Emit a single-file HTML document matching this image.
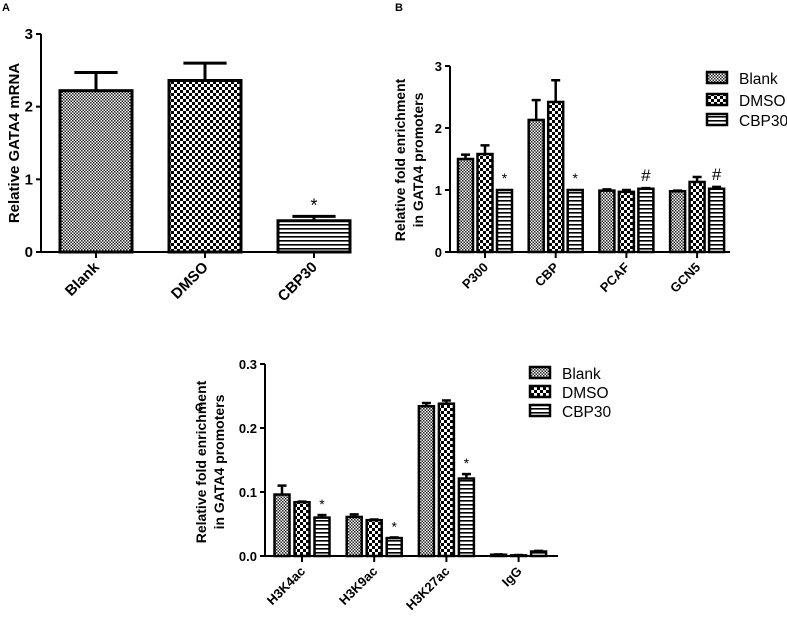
<!DOCTYPE html>
<html><head><meta charset="utf-8"><style>
html,body{margin:0;padding:0;background:#fff;}
svg{display:block;font-family:"Liberation Sans",Arial,sans-serif;}
</style></head><body>
<svg width="787" height="620" viewBox="0 0 787 620">
<defs>
<pattern id="pBlank" width="3" height="3" patternUnits="userSpaceOnUse"><rect width="3" height="3" fill="#fff"/><rect width="1.5" height="1.5" fill="#222"/><rect x="1.5" y="1.5" width="1.5" height="1.5" fill="#222"/></pattern>
<pattern id="pDMSO" width="6" height="6" patternUnits="userSpaceOnUse"><rect width="6" height="6" fill="#fff"/><rect width="3" height="3" fill="#000"/><rect x="3" y="3" width="3" height="3" fill="#000"/></pattern>
<pattern id="pCBP" width="4" height="4" patternUnits="userSpaceOnUse"><rect width="4" height="4" fill="#fff"/><rect width="4" height="1.6" fill="#000"/></pattern>
</defs>
<g id="gA"></g>
<g id="gB"></g>
<g id="gC"></g>
</svg>
<script>
// Panel A data
const aCategories=["Blank","DMSO","CBP30"];
const aValues=[2.22,2.36,0.43];
const aErrors=[0.25,0.24,0.06];
const aMarks=["","","*"];
const aTicks=[0,1,2,3];
// Panel B data
const bCategories=["P300","CBP","PCAF","GCN5"];
const bBlank=[1.5,2.13,0.99,0.98];
const bBlankErr=[0.07,0.32,0.02,0.01];
const bDMSO=[1.58,2.42,0.97,1.13];
const bDMSOErr=[0.14,0.35,0.03,0.08];
const bCBP=[1.0,1.0,1.02,1.02];
const bCBPErr=[0.0,0.0,0.01,0.03];
const bMarks=["*","*","#","#"];
const bTicks=[0,1,2,3];
// Panel C data
const cCategories=["H3K4ac","H3K9ac","H3K27ac","IgG"];
const cBlank=[0.096,0.061,0.234,0.002];
const cBlankErr=[0.014,0.004,0.005,0.0005];
const cDMSO=[0.084,0.056,0.238,0.001];
const cDMSOErr=[0.001,0.001,0.005,0.0005];
const cCBP=[0.06,0.028,0.121,0.007];
const cCBPErr=[0.004,0.001,0.007,0.001];
const cMarks=["*","*","*",""];
const cTicks=["0.0","0.1","0.2","0.3"];
const seriesNames=["Blank","DMSO","CBP30"];
const fills=["url(#pBlank)","url(#pDMSO)","url(#pCBP)"];
const NS="http://www.w3.org/2000/svg";
function mk(parent,tag,attrs,text){const e=document.createElementNS(NS,tag);for(const k in attrs)e.setAttribute(k,attrs[k]);if(text!==undefined)e.textContent=text;parent.appendChild(e);return e;}

function axes(g,x0,x1,y0,yTop,ticks,tickVals,yScale,xs,cats,fs){
  const ax=mk(g,'line',{x1:x0,y1:y0+1,x2:x0,y2:yTop,stroke:'#000','stroke-width':2});
  
  
  const xx=mk(g,'line',{x1:x0-1,y1:y0,x2:x1,y2:y0,stroke:'#000','stroke-width':2});
  
  
  ticks.forEach((t,i)=>{const y=yScale(tickVals[i]);
    mk(g,'line',{x1:x0-5,y1:y,x2:x0,y2:y,stroke:'#000','stroke-width':2});
    const tl=mk(g,'text',{x:x0-8,y:y+5,'text-anchor':'end','font-size':fs,'font-weight':'bold'},t);
    
    
  });
  xs.forEach((x,i)=>{mk(g,'line',{x1:x,y1:y0,x2:x,y2:y0+6,stroke:'#000','stroke-width':2});
    const tl=mk(g,'text',{x:x+4,y:y0+16,'text-anchor':'end','font-size':fs,'font-weight':'bold',transform:`rotate(-45 ${x+4} ${y0+16})`},cats[i]);
    
    
  });
}
function bar(g,cx,w,v,e,yScale,y0,fill,sw){
  const yt=yScale(v);
  if(e>0){const ye=yScale(v+e);
    mk(g,'line',{x1:cx,y1:yt,x2:cx,y2:ye,stroke:'#000','stroke-width':sw});
    mk(g,'line',{x1:cx-w*0.3,y1:ye,x2:cx+w*0.3,y2:ye,stroke:'#000','stroke-width':sw});}
  const r=mk(g,'rect',{x:cx-w/2,y:yt,width:w,height:Math.max(y0-yt,0.5),fill:fill,stroke:'#000','stroke-width':sw});
  
  
}
function legend(g,x,ys){
  seriesNames.forEach((n,i)=>{
    mk(g,'rect',{x:x,y:ys[i]-6,width:20,height:11,fill:fills[i],stroke:'#000','stroke-width':2.5});
    const t=mk(g,'text',{x:x+32,y:ys[i]+6,'font-size':15.5},n);
    
    
  });
}
// Panel A
(function(){const g=document.getElementById('gA');
 const y0=252,yT=34,x0=41;const ys=v=>y0-(y0-yT)*v/3;
 mk(g,'text',{x:2,y:11,'font-size':11,'font-weight':'bold'},'A');
 const xs=aCategories.map((c,i)=>96+i*109);
 axes(g,x0,350,y0,yT,aTicks.map(String),aTicks,ys,xs,aCategories,15);
 aCategories.forEach((c,i)=>{bar(g,xs[i],72,aValues[i],aErrors[i],ys,y0,fills[i],3);
  if(aMarks[i])mk(g,'text',{x:xs[i],y:ys(aValues[i]+aErrors[i])-5,'text-anchor':'middle','font-size':18},aMarks[i]);});
 mk(g,'text',{x:19,y:143,'text-anchor':'middle','font-size':15,'font-weight':'bold',transform:'rotate(-90 19 143)'},'Relative GATA4 mRNA');
})();
// Panel B
(function(){const g=document.getElementById('gB');
 const y0=252,yT=66,x0=450;const ys=v=>y0-(y0-yT)*v/3;
 mk(g,'text',{x:395,y:11,'font-size':11,'font-weight':'bold'},'B');
 const xs=bCategories.map((c,i)=>485+i*70.7);
 axes(g,x0,730,y0,yT,bTicks.map(String),bTicks,ys,xs,bCategories,13);
 const S=[[bBlank,bBlankErr],[bDMSO,bDMSOErr],[bCBP,bCBPErr]];
 bCategories.forEach((c,i)=>{S.forEach((s,j)=>bar(g,xs[i]+(j-1)*19.5,15,s[0][i],s[1][i],ys,y0,fills[j],2.5));
  const cx=xs[i]+19.5;mk(g,'text',{x:cx,y:ys(bCBP[i]+bCBPErr[i])-7,'text-anchor':'middle','font-size':bMarks[i]=='#'?17:14},bMarks[i]);});
 const t=mk(g,'text',{'text-anchor':'middle','font-size':14,'font-weight':'bold',transform:'translate(413 160) rotate(-90)'});
 mk(t,'tspan',{x:0,y:-8},'Relative fold enrichment');mk(t,'tspan',{x:0,y:10},'in GATA4 promoters');
 legend(g,707,[78,100,120]);
})();
// Panel C
(function(){const g=document.getElementById('gC');
 const y0=556,yT=364,x0=265;const ys=v=>y0-(y0-yT)*v/0.3;
 mk(g,'text',{x:195,y:411,'font-size':11,'font-weight':'bold'},'C');
 const xs=cCategories.map((c,i)=>302+i*72.2);
 axes(g,x0,558,y0,yT,cTicks,[0,0.1,0.2,0.3],ys,xs,cCategories,13);
 const S=[[cBlank,cBlankErr],[cDMSO,cDMSOErr],[cCBP,cCBPErr]];
 cCategories.forEach((c,i)=>{S.forEach((s,j)=>bar(g,xs[i]+(j-1)*20,15,s[0][i],s[1][i],ys,y0,fills[j],2.5));
  if(cMarks[i])mk(g,'text',{x:xs[i]+20,y:ys(cCBP[i]+cCBPErr[i])-6,'text-anchor':'middle','font-size':14},cMarks[i]);});
 const t=mk(g,'text',{'text-anchor':'middle','font-size':14,'font-weight':'bold',transform:'translate(214 462) rotate(-90)'});
 mk(t,'tspan',{x:0,y:-8},'Relative fold enrichment');mk(t,'tspan',{x:0,y:10},'in GATA4 promoters');
 legend(g,530,[373,392,411]);
})();
</script>
</body></html>
